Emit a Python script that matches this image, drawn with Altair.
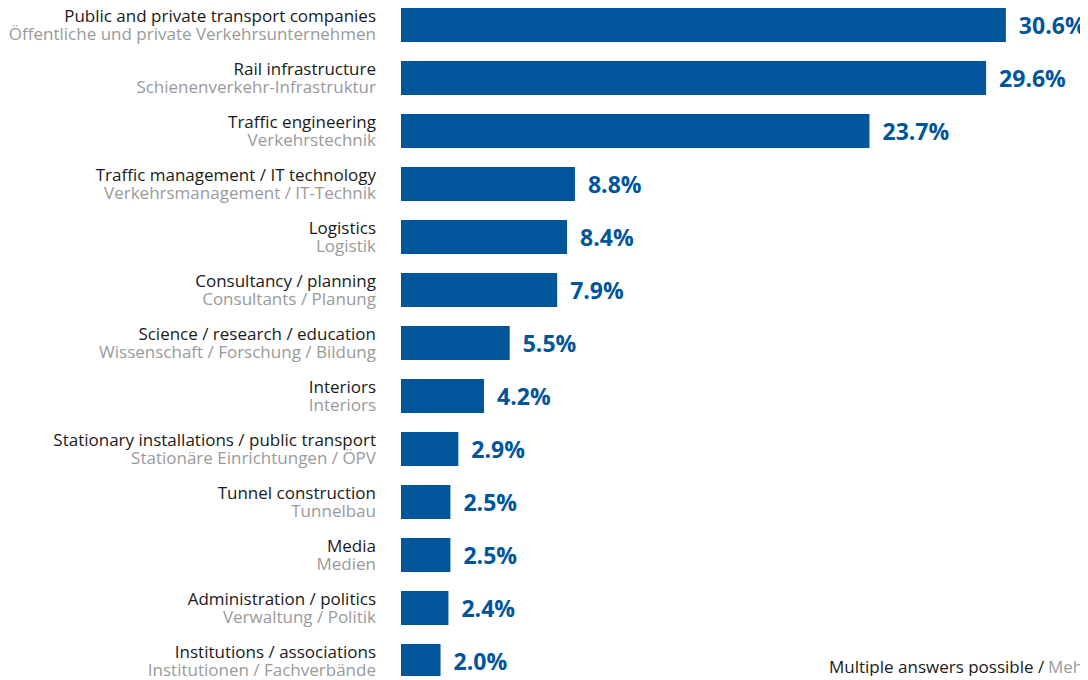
import altair as alt
import pandas as pd

en = [
    "Public and private transport companies",
    "Rail infrastructure",
    "Traffic engineering",
    "Traffic management / IT technology",
    "Logistics",
    "Consultancy / planning",
    "Science / research / education",
    "Interiors",
    "Stationary installations / public transport",
    "Tunnel construction",
    "Media",
    "Administration / politics",
    "Institutions / associations",
]
de = [
    "Öffentliche und private Verkehrsunternehmen",
    "Schienenverkehr-Infrastruktur",
    "Verkehrstechnik",
    "Verkehrsmanagement / IT-Technik",
    "Logistik",
    "Consultants / Planung",
    "Wissenschaft / Forschung / Bildung",
    "Interiors",
    "Stationäre Einrichtungen / ÖPV",
    "Tunnelbau",
    "Medien",
    "Verwaltung / Politik",
    "Institutionen / Fachverbände",
]
values = [30.6, 29.6, 23.7, 8.8, 8.4, 7.9, 5.5, 4.2, 2.9, 2.5, 2.5, 2.4, 2.0]
note_en = "Multiple answers possible / "
note_de = "Mehrfachantworten möglich"

df = pd.DataFrame({"en": en, "de": de, "value": values})
df["label"] = [f"{v:.1f}%" for v in values]

BLUE = "#00559B"
FONT = "Open Sans"

y = alt.Y("en:N", sort=en, axis=None,
          scale=alt.Scale(paddingInner=0.358, paddingOuter=0, range=[0, 670]))
x = alt.X("value:Q", axis=None, scale=alt.Scale(domain=[0, 34.35], nice=False))

base = alt.Chart(df)
bars = base.mark_bar(color=BLUE).encode(x=x, y=y)
vals = base.mark_text(align="left", baseline="alphabetic", dx=13, dy=9,
                      font=FONT, fontSize=23, fontWeight="bold", color=BLUE
                      ).encode(x=x, y=y, text="label:N")
lab_en = base.mark_text(align="right", baseline="alphabetic", dy=-3,
                        font=FONT, fontSize=17, color="#1a1a1a"
                        ).encode(x=alt.value(-25), y=y, text="en:N")
lab_de = base.mark_text(align="right", baseline="alphabetic", dy=15,
                        font=FONT, fontSize=17, color="#9a9a9a"
                        ).encode(x=alt.value(-25), y=y, text="de:N")

note_df = pd.DataFrame({"a": [note_en], "b": [note_de]})
note1 = alt.Chart(note_df).mark_text(align="left", baseline="alphabetic",
                                     font=FONT, fontSize=17, color="#1a1a1a"
                                     ).encode(x=alt.value(428), y=alt.value(665), text="a:N")
note2 = alt.Chart(note_df).mark_text(align="left", baseline="alphabetic",
                                     font=FONT, fontSize=17, color="#9a9a9a"
                                     ).encode(x=alt.value(647), y=alt.value(665), text="b:N")

chart = alt.layer(bars, vals, lab_en, lab_de, note1, note2).properties(
    width=679, height=668,
    autosize=alt.AutoSizeParams(type="none"),
    padding={"left": 393, "top": 0, "right": 0, "bottom": 0},
).configure_view(stroke=None)

chart.save("out.html", embed_options={"renderer": "svg", "actions": False})
